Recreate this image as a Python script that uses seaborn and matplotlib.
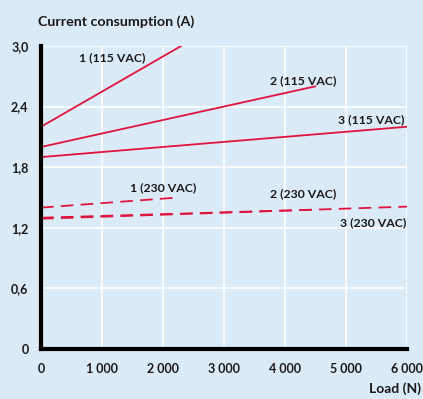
import pandas as pd
import numpy as np
import matplotlib.pyplot as plt
import seaborn as sns

# Data: (load N, current A) endpoints for each series
series_names = ["1 (115 VAC)", "2 (115 VAC)", "3 (115 VAC)",
                "1 (230 VAC)", "2 (230 VAC)", "3 (230 VAC)"]
load_start = [0, 0, 0, 0, 0, 0]
load_end = [2300, 4500, 6000, 2250, 4500, 6000]
current_start = [2.2, 2.0, 1.9, 1.4, 1.3, 1.29]
current_end = [3.0, 2.6, 2.2, 1.5, 1.38, 1.41]

x_ticks = [0, 1000, 2000, 3000, 4000, 5000, 6000]
x_ticklabels = ["0", "1 000", "2 000", "3 000", "4 000", "5 000", "6 000"]
y_ticks = [0, 0.6, 1.2, 1.8, 2.4, 3.0]
y_ticklabels = ["0", "0,6", "1,2", "1,8", "2,4", "3,0"]

# label positions (data coords) for the annotations
label_x = [1170, 4300, 5420, 2000, 4300, 5440]
label_y = [2.88, 2.66, 2.27, 1.6, 1.54, 1.25]

BG = "#dbeaf7"
RED = "#e0143c"

rows = []
for name, x0, x1, y0, y1 in zip(series_names, load_start, load_end, current_start, current_end):
    rows.append({"series": name, "load": x0, "current": y0})
    rows.append({"series": name, "load": x1, "current": y1})
df = pd.DataFrame(rows)
df["dashed"] = df["series"].str.contains("230")

sns.set_style("whitegrid")
plt.rcParams["font.family"] = ["Lato", "DejaVu Sans"]

fig = plt.figure(figsize=(4.23, 3.99), dpi=100)
fig.patch.set_facecolor(BG)
ax = fig.add_axes([0.097, 0.125, 0.865, 0.76])
ax.set_facecolor(BG)

for name in series_names:
    d = df[df["series"] == name]
    dashed = d["dashed"].iloc[0]
    sns.lineplot(data=d, x="load", y="current", ax=ax, color=RED, lw=1.3,
                 linestyle=(0, (7, 4)) if dashed else "-", legend=False)

for name, lx, ly in zip(series_names, label_x, label_y):
    ax.text(lx, ly, name, ha="center", va="center", fontsize=8.8,
            fontweight="bold", color="#1a1a1a")

ax.set_xlim(0, 6000)
ax.set_ylim(0, 3.0)
ax.set_xticks(x_ticks)
ax.set_xticklabels(x_ticklabels)
ax.set_yticks(y_ticks)
ax.set_yticklabels(y_ticklabels)
ax.tick_params(length=0, labelsize=9, colors="#1a1a1a")
for lab in ax.get_xticklabels() + ax.get_yticklabels():
    lab.set_fontweight("bold")
ax.grid(True, color="white", lw=1.2)
ax.tick_params(axis="y", pad=9)
ax.tick_params(axis="x", pad=10)

for side in ["top", "right"]:
    ax.spines[side].set_visible(False)
for side in ["left", "bottom"]:
    ax.spines[side].set_color("black")
    ax.spines[side].set_linewidth(3)

ax.set_xlabel("")
ax.set_ylabel("")
fig.text(0.09, 0.945, "Current consumption (A)", fontsize=10.3, fontweight="bold",
         ha="left", va="center", color="#1a1a1a")
fig.text(0.995, 0.025, "Load (N)", fontsize=10, fontweight="bold",
         ha="right", va="center", color="#1a1a1a")

fig.savefig("out.png", dpi=100, facecolor=BG)
